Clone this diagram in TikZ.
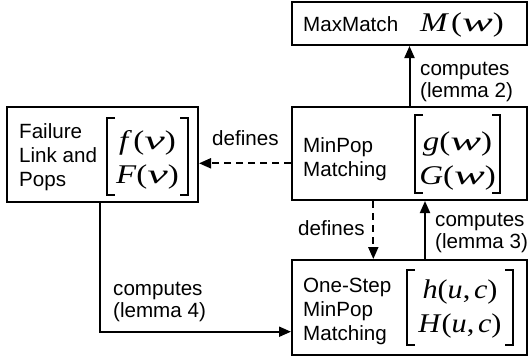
\documentclass[tikz,border=0pt]{standalone}
\usepackage{fontspec}
\setmainfont{Liberation Sans}
\newfontfamily\tnr{Liberation Serif}
\usepackage{graphicx}
\usetikzlibrary{arrows.meta}
\newcommand\mi[1]{\textit{#1}}
\newcommand\mrow[1]{\scalebox{1.22}[1]{#1}}
\newcommand\hrow[1]{\scalebox{1.12}[1]{#1}}
\newcommand\wv{\scalebox{1.4}[1]{\mi{w}}}
\newcommand\vv{\scalebox{1.4}[1]{\mi{v}}}
\newcommand\cm{,\kern0.12em}
\newcommand\lbl[1]{\begin{tabular}[t]{@{}l@{}}#1\end{tabular}}
\newcommand\mtx[1]{\begin{tabular}[t]{@{}c@{}}#1\end{tabular}}
\newcommand\brk[4]{%
  \draw[brk] (#1+8,#3) -| (#1,#4) -- ++(8,0);
  \draw[brk] (#2-8,#3) -| (#2,#4) -- ++(-8,0);}
\begin{document}
\begin{tikzpicture}[x=1pt,y=-1pt,
  box/.style={draw,line width=2pt,inner sep=0,minimum width=235pt},
  txt/.style={inner sep=0,anchor=base west,font=\fontsize{20.6}{24}\selectfont},
  lab/.style={inner sep=0,anchor=base west,font=\fontsize{20.6}{22}\selectfont},
  mth/.style={inner sep=0,anchor=base,font=\tnr\fontsize{27}{34}\selectfont},
  conn/.style={line width=2pt,-{Triangle[length=12pt,width=10pt]}},
  dsh/.style={conn,dash pattern=on 7pt off 5pt},
  brk/.style={line width=1.6pt}]
\useasboundingbox (0,0) rectangle (529,360);
% boxes
\node[box,minimum height=43pt] (mm) at (409.5,23.5) {};
\node[box,minimum height=93pt] (mp) at (409.5,153.5) {};
\node[box,minimum width=191pt,minimum height=95pt] (fl) at (102.5,154.5) {};
\node[box,minimum height=95pt] (os) at (409.5,307.5) {};
% box texts
\node[txt] (mmt) at (303,31) {MaxMatch};
\node[txt] (mpt) at (303,152) {\lbl{MinPop\\Matching}};
\node[txt] (flt) at (19,138) {\lbl{Failure\\Link and\\Pops}};
\node[txt] (ost) at (303,292) {\lbl{One-Step\\MinPop\\Matching}};
% math
\node[mth] (mmm) at (462,31) {\mrow{\mi{M}\kern0.06em(\wv)}};
\node[mth] (flm) at (147.5,149) {\mtx{\mrow{\mi{f}\kern0.04em(\vv)}\\\mrow{\mi{F}(\vv)}}};
\node[mth] (mpm) at (457.5,150) {\mtx{\mrow{\mi{g}(\wv)}\\\mrow{\mi{G}(\wv)}}};
\node[mth] (osm) at (460,298) {\mtx{\hrow{\mi{h}(\mi{u}\cm\mi{c})}\\\hrow{\mi{H}(\mi{u}\cm\mi{c})}}};
\brk{107}{188}{118}{195}
\brk{415}{500}{115}{193}
\brk{407}{513}{270}{345}
% connectors
\draw[conn] (mp) -- (mm);
\draw[dsh] ([yshift=-9.8pt]mp.west) -- ([yshift=-9.8pt]mp.west -| fl.east);
\draw[dsh] ([xshift=-36.2pt]mp.south) -- ([xshift=-36.2pt]os.north);
\draw[conn] ([xshift=15.5pt]os.north) -- ([xshift=15.5pt]mp.south);
\draw[conn] ([xshift=-2.5pt]fl.south) |- ([yshift=-24.2pt]os.west);
% labels
\node[lab] (l2) at (420,75) {\lbl{computes\\(lemma 2)}};
\node[lab] (d1) at (212,145) {defines};
\node[lab] (d2) at (298,235) {defines};
\node[lab] (l3) at (435,226.5) {\lbl{computes\\(lemma 3)}};
\node[lab] (l4) at (113,295) {\lbl{computes\\(lemma 4)}};
\end{tikzpicture}
\end{document}
